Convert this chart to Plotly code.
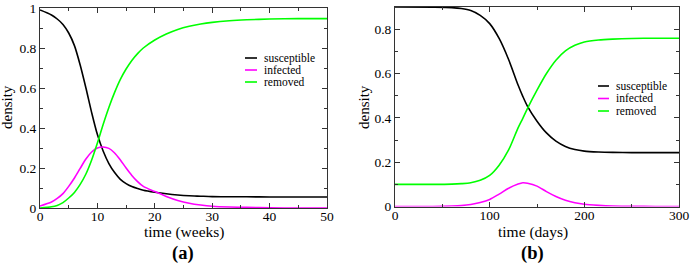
import plotly.graph_objects as go

# ---------------- data ----------------
series_names = ["susceptible", "infected", "removed"]
series_colors = ["#000000", "#ff00ff", "#00ff00"]

# panel (a): time in weeks
weeks = [0, 2, 3, 4, 5, 6, 7, 8, 9, 10, 11, 12, 13, 14, 15, 16, 17, 18, 20,
         22, 24, 26, 28, 30, 33, 36, 40, 45, 50]
sus_a = [0.99, 0.965, 0.945, 0.918, 0.875, 0.812, 0.715, 0.600, 0.477, 0.367,
         0.285, 0.222, 0.177, 0.143, 0.122, 0.107, 0.097, 0.089, 0.079,
         0.071, 0.065, 0.061, 0.059, 0.057, 0.056, 0.056, 0.055, 0.055, 0.055]
inf_a = [0.010, 0.030, 0.048, 0.072, 0.108, 0.150, 0.198, 0.245, 0.280, 0.300,
         0.305, 0.298, 0.275, 0.240, 0.200, 0.163, 0.132, 0.108, 0.082,
         0.058, 0.038, 0.024, 0.015, 0.009, 0.005, 0.003, 0.001, 0.0, 0.0]
rem_a = [0.0, 0.006, 0.013, 0.027, 0.050, 0.078, 0.118, 0.170, 0.240, 0.325,
         0.418, 0.503, 0.578, 0.643, 0.695, 0.738, 0.772, 0.800, 0.840,
         0.870, 0.893, 0.909, 0.920, 0.928, 0.936, 0.941, 0.945, 0.947, 0.947]

# panel (b): time in days
days = [0, 40, 60, 70, 80, 90, 100, 110, 120, 130, 135, 140, 150, 160, 170,
        180, 190, 200, 215, 230, 250, 275, 300]
sus_b = [0.900, 0.899, 0.897, 0.893, 0.884, 0.862, 0.825, 0.758, 0.663, 0.548,
         0.497, 0.452, 0.385, 0.332, 0.295, 0.271, 0.257, 0.250, 0.246, 0.244,
         0.243, 0.243, 0.243]
inf_b = [0.0, 0.0, 0.002, 0.004, 0.009, 0.018, 0.032, 0.056, 0.082, 0.101,
         0.107, 0.105, 0.092, 0.067, 0.045, 0.028, 0.017, 0.010, 0.005, 0.002,
         0.001, 0.0, 0.0]
rem_b = [0.100, 0.100, 0.101, 0.103, 0.107, 0.118, 0.140, 0.186, 0.255, 0.355,
         0.398, 0.443, 0.525, 0.600, 0.660, 0.702, 0.727, 0.742, 0.751, 0.755,
         0.758, 0.759, 0.759]

x_ticks_a = [0, 10, 20, 30, 40, 50]
y_ticks_a = [0, 0.2, 0.4, 0.6, 0.8, 1]
y_ticklabels_a = ["0", "0.2", "0.4", "0.6", "0.8", "1"]
x_ticks_b = [0, 100, 200, 300]
y_ticks_b = [0, 0.2, 0.4, 0.6, 0.8]
y_ticklabels_b = ["0", "0.2", "0.4", "0.6", "0.8"]

panel_labels = ["(a)", "(b)"]
x_titles = ["time (weeks)", "time (days)"]
y_title = "density"

# ---------------- figure ----------------
W, H = 690, 264
SERIF = "Liberation Serif"

fig = go.Figure()

for name, color, ya in zip(series_names, series_colors, [sus_a, inf_a, rem_a]):
    fig.add_trace(go.Scatter(x=weeks, y=ya, mode="lines", name=name,
                             line=dict(color=color, width=1.6, shape="spline", smoothing=0.8),
                             xaxis="x", yaxis="y", showlegend=False))
for name, color, yb in zip(series_names, series_colors, [sus_b, inf_b, rem_b]):
    fig.add_trace(go.Scatter(x=days, y=yb, mode="lines", name=name,
                             line=dict(color=color, width=1.6, shape="spline", smoothing=0.8),
                             xaxis="x2", yaxis="y2", showlegend=False))


def px_x(p):
    return p / W


def px_y(p):
    return (H - p) / H


axis_common = dict(showline=True, linecolor="#333333", linewidth=1, mirror="allticks",
                   ticks="inside", ticklen=5, tickcolor="#333333", tickwidth=1,
                   showgrid=False, zeroline=False, automargin=False,
                   tickfont=dict(family=SERIF, size=13.5, color="#000000"))

fig.update_layout(
    template="none",
    width=W, height=H,
    margin=dict(l=0, r=0, t=0, b=0),
    paper_bgcolor="white", plot_bgcolor="white",
    font=dict(family=SERIF, color="#000000"),
    xaxis=dict(domain=[px_x(40), px_x(327)], range=[0, 50], tickvals=x_ticks_a,
               ticktext=[str(v) for v in x_ticks_a], anchor="y", ticklabelstandoff=-4,
               minor=dict(ticks="inside", ticklen=3, dtick=5, tickcolor="#333333"),
               **axis_common),
    yaxis=dict(domain=[px_y(208), px_y(8)], range=[0, 1], tickvals=y_ticks_a,
               ticktext=y_ticklabels_a, anchor="x",
               minor=dict(ticks="inside", ticklen=3, dtick=0.1, tickcolor="#333333"),
               **axis_common),
    xaxis2=dict(domain=[px_x(395), px_x(679)], range=[0, 300], tickvals=x_ticks_b,
                ticktext=[str(v) for v in x_ticks_b], anchor="y2", ticklabelstandoff=-4,
                minor=dict(ticks="inside", ticklen=3, dtick=50, tickcolor="#333333"),
                **axis_common),
    yaxis2=dict(domain=[px_y(206.5), px_y(7)], range=[0, 0.9], tickvals=y_ticks_b,
                ticktext=y_ticklabels_b, anchor="x2",
                minor=dict(ticks="inside", ticklen=3, dtick=0.1, tickcolor="#333333"),
                **axis_common),
)

annotations = []
shapes = []

# axis titles and panel labels
for cx, xt, lab, ycx in [(183.5, x_titles[0], panel_labels[0], 7),
                          (533, x_titles[1], panel_labels[1], 364)]:
    annotations.append(dict(x=px_x(cx), y=px_y(232), xref="paper", yref="paper",
                            text=xt, showarrow=False, xanchor="center", yanchor="middle",
                            font=dict(family=SERIF, size=15.5, color="#000000")))
    annotations.append(dict(x=px_x(cx - 1), y=px_y(253), xref="paper", yref="paper",
                            text="<b>" + lab + "</b>", showarrow=False,
                            xanchor="center", yanchor="middle",
                            font=dict(family=SERIF, size=18.5, color="#000000")))
    annotations.append(dict(x=px_x(ycx), y=px_y(107), xref="paper", yref="paper",
                            text=y_title, textangle=-90, showarrow=False,
                            xanchor="center", yanchor="middle",
                            font=dict(family=SERIF, size=15, color="#000000")))

# legends (drawn as small line samples + text)
for (lx0, lx1, tx, rows) in [(245, 257, 262, [58, 70, 82]),
                             (598, 609, 614, [86, 98.5, 111])]:
    for name, color, ry in zip(series_names, series_colors, rows):
        shapes.append(dict(type="line", xref="paper", yref="paper",
                           x0=px_x(lx0), x1=px_x(lx1), y0=px_y(ry), y1=px_y(ry),
                           line=dict(color=color, width=1.6)))
        annotations.append(dict(x=px_x(tx), y=px_y(ry), xref="paper", yref="paper",
                                text=name, showarrow=False, xanchor="left", yanchor="middle",
                                font=dict(family=SERIF, size=11.5, color="#000000")))

fig.update_layout(annotations=annotations, shapes=shapes)

fig.write_html(
    "out.html",
    config={"displayModeBar": False},
    post_script="document.body.style.margin='0';document.body.style.padding='0';"
                "document.body.style.overflow='hidden';",
)
